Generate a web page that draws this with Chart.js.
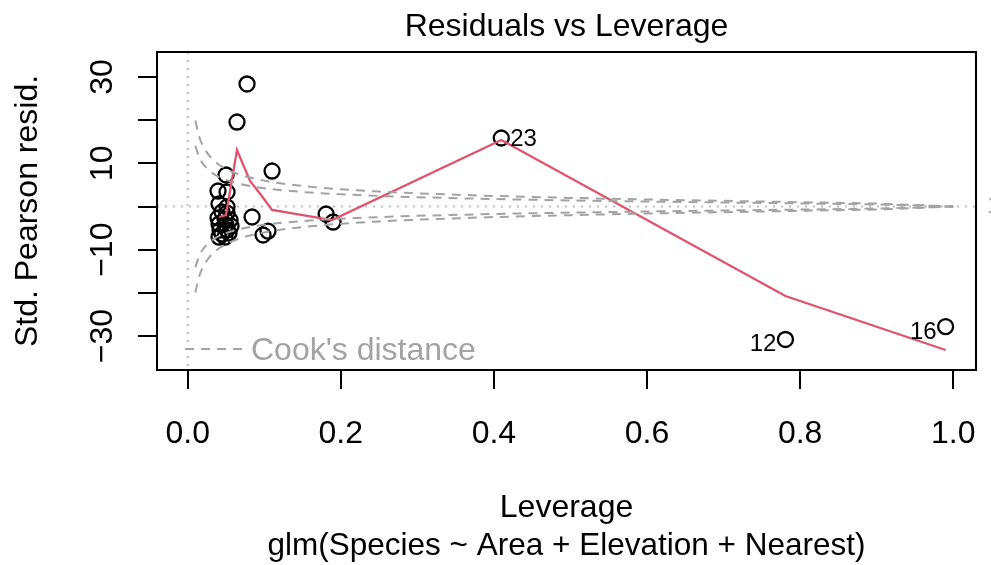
<!DOCTYPE html>
<html>
<head>
<meta charset="utf-8">
<title>Residuals vs Leverage</title>
<script src="https://cdn.jsdelivr.net/npm/chart.js@4.4.0/dist/chart.umd.min.js"></script>
<style>
	html, body { margin: 0; padding: 0; background: #ffffff; }
	canvas { display: block; }
</style>
</head>
<body>
<canvas id="canvasResLev" width="991" height="565"></canvas>
<script>

// hat values and standardized pearson residuals, one per island (1..30)
var leverage = [0.0448, 0.0514, 0.0396, 0.0409, 0.0487, 0.1102, 0.0553, 0.0409, 0.0501, 0.0500,
                0.0566, 0.7808, 0.0841, 0.0422, 0.1808, 0.9900, 0.0644, 0.0514, 0.0396, 0.0448,
                0.1049, 0.0540, 0.4096, 0.0775, 0.0487, 0.0984, 0.1899, 0.0514, 0.0409, 0.0514];
var stdResid = [-1.27, 3.36, -2.66, 0.58, -2.90, 8.22, -3.13, -4.05, 7.30, -4.29,
                -4.52, -30.80, -2.43, -5.44, -1.74, -27.80, 19.57, -5.44, 3.59, -6.37,
                -5.68, -6.14, 15.87, 28.38, -7.07, -6.60, -3.59, -0.12, -7.07, -1.51];

// islands flagged with their number
var idLabels = ['23', '12', '16'];

// smoother through the residuals
var smoothLev   = [0.0409, 0.0500, 0.0644, 0.0814, 0.0958, 0.1102, 0.1886, 0.4096, 0.7808, 0.9900];
var smoothResid = [-2.43, -1.97, 13.09, 5.91, 2.66, -0.81, -3.13, 15.40, -20.73, -33.23];

// cook's distance contours (0.5 and 1)
var cookLev  = [0.01, 0.015, 0.02, 0.03, 0.04, 0.05, 0.065, 0.08, 0.1, 0.13, 0.16,
                0.2, 0.25, 0.3, 0.4, 0.5, 0.6, 0.7, 0.8, 0.9, 1.0];
var cookHalf = [14.07, 11.46, 9.90, 8.04, 6.93, 6.16, 5.36, 4.80, 4.24, 3.66, 3.24,
                2.83, 2.45, 2.16, 1.73, 1.41, 1.15, 0.93, 0.71, 0.47, 0];
var cookOne  = [19.90, 16.20, 14.00, 11.37, 9.80, 8.72, 7.58, 6.78, 6.00, 5.17, 4.58,
                4.00, 3.46, 3.06, 2.45, 2.00, 1.63, 1.31, 1.00, 0.67, 0];

var xTicks = [0, 0.2, 0.4, 0.6, 0.8, 1.0];
var xTickLabels = ['0.0', '0.2', '0.4', '0.6', '0.8', '1.0'];
var yTicks = [-30, -20, -10, 0, 10, 20, 30];
var yTickLabels = ['\u221230', '', '\u221210', '', '10', '', '30'];

var FONT = '"Liberation Sans", Arial, Helvetica, sans-serif';
var GREY = '#a3a3a3';

function pairs(xs, ys, sign){
	var out = [];
	for (var i = 0; i < xs.length; i++){
		out.push({ x: xs[i], y: (sign || 1) * ys[i] });
	}
	return out;
}

function cookSet(ys, sign){
	return {
		type: 'line',
		data: pairs(cookLev, ys, sign),
		borderColor: GREY,
		borderWidth: 2,
		borderDash: [9, 7],
		pointRadius: 0,
		fill: false,
		tension: 0.4,
		cubicInterpolationMode: 'monotone',
		order: 0
	};
}

// frame, ticks and all the text of the base-graphics style plot
var plotFrame = {
	id: 'plotFrame',
	beforeDatasetsDraw: function(chart){
		var ctx = chart.ctx, a = chart.chartArea;
		var xs = chart.scales.x, ys = chart.scales.y;
		ctx.save();
		ctx.strokeStyle = '#bebebe';
		ctx.lineWidth = 2;
		ctx.setLineDash([2, 6]);
		var x0 = xs.getPixelForValue(0), y0 = ys.getPixelForValue(0);
		ctx.beginPath();
		ctx.moveTo(x0, a.top); ctx.lineTo(x0, a.bottom);
		ctx.moveTo(a.left, y0); ctx.lineTo(a.right, y0);
		ctx.stroke();
		ctx.restore();
	},
	afterDatasetsDraw: function(chart){
		var ctx = chart.ctx, a = chart.chartArea;
		var xs = chart.scales.x, ys = chart.scales.y;
		var i, px, py;

		ctx.save();
		ctx.strokeStyle = '#000';
		ctx.lineWidth = 2;
		ctx.strokeRect(a.left, a.top, a.right - a.left, a.bottom - a.top);

		// axis ticks
		ctx.beginPath();
		for (i = 0; i < xTicks.length; i++){
			px = Math.round(xs.getPixelForValue(xTicks[i]));
			ctx.moveTo(px, a.bottom); ctx.lineTo(px, a.bottom + 19);
		}
		for (i = 0; i < yTicks.length; i++){
			py = Math.round(ys.getPixelForValue(yTicks[i]));
			ctx.moveTo(a.left, py); ctx.lineTo(a.left - 19, py);
		}
		ctx.stroke();

		ctx.fillStyle = '#000';
		ctx.font = '32px ' + FONT;
		ctx.textAlign = 'center';
		ctx.textBaseline = 'alphabetic';
		for (i = 0; i < xTicks.length; i++){
			ctx.fillText(xTickLabels[i], xs.getPixelForValue(xTicks[i]), 443);
		}
		for (i = 0; i < yTicks.length; i++){
			if (!yTickLabels[i]) continue;
			ctx.save();
			ctx.translate(112, ys.getPixelForValue(yTicks[i]));
			ctx.rotate(-Math.PI / 2);
			ctx.fillText(yTickLabels[i], 0, 0);
			ctx.restore();
		}

		var midX = (a.left + a.right) / 2;
		var midY = (a.top + a.bottom) / 2;
		ctx.fillText('Residuals vs Leverage', midX, 36);
		ctx.fillText('Leverage', midX, 517);
		ctx.save();
		ctx.translate(37, midY);
		ctx.rotate(-Math.PI / 2);
		ctx.fillText('Std. Pearson resid.', 0, 0);
		ctx.restore();
		ctx.font = '31.5px ' + FONT;
		ctx.fillText('glm(Species ~ Area + Elevation + Nearest)', midX, 555);

		// island numbers next to the flagged points
		ctx.font = '24px ' + FONT;
		for (i = 0; i < idLabels.length; i++){
			var k = parseInt(idLabels[i], 10) - 1;
			px = xs.getPixelForValue(leverage[k]);
			py = ys.getPixelForValue(stdResid[k]);
			if (leverage[k] > 0.5){
				ctx.textAlign = 'right';
				ctx.fillText(idLabels[i], px - 9, py + 12);
			} else {
				ctx.textAlign = 'left';
				ctx.fillText(idLabels[i], px + 9, py + 8);
			}
		}

		// cook's levels on the right margin
		ctx.fillStyle = GREY;
		ctx.textAlign = 'left';
		ctx.textBaseline = 'middle';
		ctx.fillText('1', a.right + 11, ys.getPixelForValue(0));

		// legend
		ctx.strokeStyle = GREY;
		ctx.setLineDash([9, 7]);
		ctx.beginPath();
		ctx.moveTo(185, 349); ctx.lineTo(242, 349);
		ctx.stroke();
		ctx.setLineDash([]);
		ctx.font = '32px ' + FONT;
		ctx.textBaseline = 'alphabetic';
		ctx.fillText("Cook's distance", 251, 360);
		ctx.restore();
	}
};

function init_chart_resid_leverage(){

	if( typeof (Chart) === 'undefined'){ return; }

	var settings = {
		type: 'scatter',
		data: {
			datasets: [
				cookSet(cookHalf, 1),
				cookSet(cookHalf, -1),
				cookSet(cookOne, 1),
				cookSet(cookOne, -1),
				{
					type: 'line',
					data: pairs(smoothLev, smoothResid),
					borderColor: '#DF536B',
					borderWidth: 2.3,
					pointRadius: 0,
					fill: false,
					order: 1
				},
				{
					data: pairs(leverage, stdResid),
					pointStyle: 'circle',
					pointRadius: 7.5,
					borderColor: '#000',
					borderWidth: 2.3,
					backgroundColor: 'rgba(0,0,0,0)',
					order: 2
				}
			]
		},
		options: {
			responsive: false,
			animation: false,
			devicePixelRatio: 1,
			events: [],
			layout: { padding: { left: 157, right: 15, top: 52, bottom: 195 } },
			plugins: { legend: false, tooltip: false, title: false },
			scales: {
				x: { type: 'linear', min: -0.0401, max: 1.0297, display: false },
				y: { type: 'linear', min: -37.87, max: 35.79, display: false }
			}
		},
		plugins: [plotFrame]
	};

	new Chart(document.getElementById('canvasResLev'), settings);
}

init_chart_resid_leverage();
</script>
</body>
</html>
